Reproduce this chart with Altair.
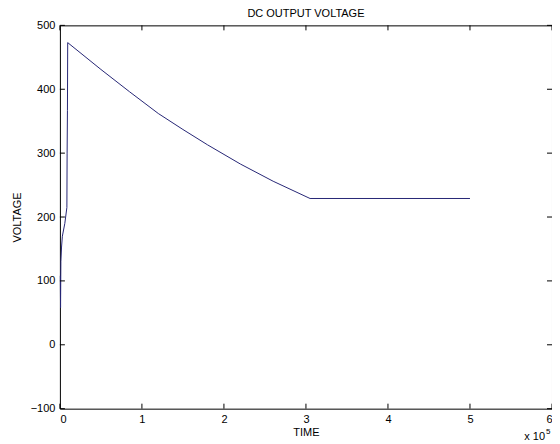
import altair as alt
import pandas as pd

# TIME in units of 1e5
time = [0.005, 0.008, 0.012, 0.02, 0.03, 0.06, 0.085, 0.088, 0.092, 0.095,
        0.5, 0.85, 1.2, 1.5, 1.8, 2.2, 2.6, 3.05, 5.0]
voltage = [108, 58, 130, 153, 170, 190, 215, 300, 367, 473,
           431, 396, 362, 337, 313, 283, 256, 229, 229]

x_ticks = [0, 1, 2, 3, 4, 5, 6]
y_ticks = [-100, 0, 100, 200, 300, 400, 500]

W, H = 493, 384
FONT = "Liberation Sans"

df = pd.DataFrame({"t": time, "v": voltage, "i": list(range(len(time)))})
xt = pd.DataFrame({"t": x_ticks})
yt = pd.DataFrame({"v": y_ticks})

xscale = alt.Scale(domain=[0, 6], nice=False, zero=False)
yscale = alt.Scale(domain=[-100, 500], nice=False, zero=False)

line = alt.Chart(df).mark_line(color="#262675", strokeWidth=1).encode(
    x=alt.X("t:Q", scale=xscale,
            axis=alt.Axis(values=x_ticks, title="TIME", labelPadding=5,
                          titlePadding=2, format="d")),
    y=alt.Y("v:Q", scale=yscale,
            axis=alt.Axis(values=y_ticks, title="VOLTAGE", labelPadding=5,
                          titlePadding=8, format="d")),
    order="i:Q",
)

tick_len = 5
xb = alt.Chart(xt).mark_rule(color="black", strokeWidth=1).encode(
    x=alt.X("t:Q", scale=xscale), y=alt.value(H), y2=alt.value(H - tick_len))
xtp = alt.Chart(xt).mark_rule(color="black", strokeWidth=1).encode(
    x=alt.X("t:Q", scale=xscale), y=alt.value(0), y2=alt.value(tick_len))
yl = alt.Chart(yt).mark_rule(color="black", strokeWidth=1).encode(
    y=alt.Y("v:Q", scale=yscale), x=alt.value(0), x2=alt.value(tick_len))
yr = alt.Chart(yt).mark_rule(color="black", strokeWidth=1).encode(
    y=alt.Y("v:Q", scale=yscale), x=alt.value(W), x2=alt.value(W - tick_len))

exp_base = alt.Chart(pd.DataFrame({"s": ["x 10"]})).mark_text(
    align="right", baseline="middle", font=FONT, fontSize=11, color="black"
).encode(text="s:N", x=alt.value(W - 7), y=alt.value(H + 28))
exp_sup = alt.Chart(pd.DataFrame({"s": ["5"]})).mark_text(
    align="left", baseline="middle", font=FONT, fontSize=8, color="black"
).encode(text="s:N", x=alt.value(W - 6), y=alt.value(H + 23))

chart = alt.layer(line, xb, xtp, yl, yr, exp_base, exp_sup).properties(
    width=W, height=H,
    title=alt.TitleParams("DC OUTPUT VOLTAGE", font=FONT, fontSize=11,
                          fontWeight="normal", color="black", offset=0),
    autosize="none",
    padding={"left": 52, "top": 17, "right": 0, "bottom": 35},
    background="white",
).configure_view(stroke="black", strokeWidth=1).configure_axis(
    grid=False, domain=False, ticks=False,
    labelFont=FONT, labelFontSize=11, labelColor="black",
    titleFont=FONT, titleFontSize=11, titleFontWeight="normal", titleColor="black",
)

chart.save("out.html", embed_options={"renderer": "svg", "actions": False})
